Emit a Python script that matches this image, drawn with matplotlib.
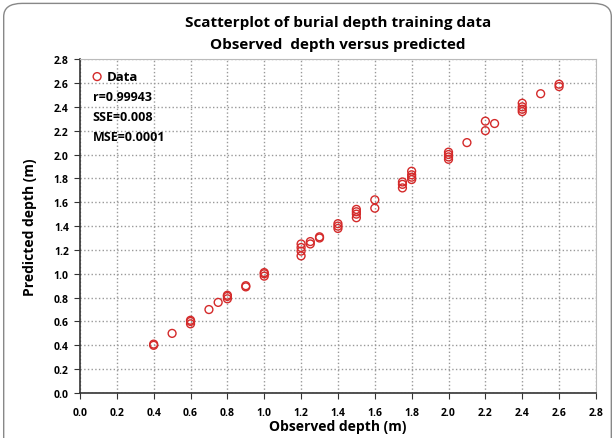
import matplotlib
matplotlib.use("Agg")
import matplotlib.pyplot as plt
from matplotlib.patches import FancyBboxPatch
import numpy as np

observed = [0.4, 0.4, 0.5, 0.6, 0.6, 0.6, 0.7, 0.75, 0.8, 0.8, 0.8, 0.9, 0.9,
            1.0, 1.0, 1.0, 1.2, 1.2, 1.2, 1.2, 1.25, 1.25, 1.3, 1.3,
            1.4, 1.4, 1.4, 1.5, 1.5, 1.5, 1.5, 1.6, 1.6,
            1.75, 1.75, 1.75, 1.8, 1.8, 1.8, 1.8, 2.0, 2.0, 2.0, 2.0,
            2.1, 2.2, 2.2, 2.25, 2.4, 2.4, 2.4, 2.4, 2.5, 2.6, 2.6]
predicted = [0.40, 0.41, 0.50, 0.58, 0.60, 0.61, 0.70, 0.76, 0.79, 0.81, 0.82, 0.89, 0.90,
             0.98, 1.00, 1.01, 1.15, 1.19, 1.22, 1.25, 1.25, 1.27, 1.30, 1.31,
             1.38, 1.40, 1.42, 1.47, 1.50, 1.52, 1.54, 1.55, 1.62,
             1.72, 1.75, 1.77, 1.79, 1.81, 1.83, 1.86, 1.96, 1.98, 2.00, 2.02,
             2.10, 2.20, 2.28, 2.26, 2.36, 2.38, 2.40, 2.43, 2.51, 2.57, 2.59]
ticks = [round(0.2 * i, 1) for i in range(15)]
stats = ["r=0.99943", "SSE=0.008", "MSE=0.0001"]

plt.rcParams['font.family'] = ['Open Sans', 'DejaVu Sans']

fig = plt.figure(figsize=(6.15, 4.39), dpi=100)
fig.patches.append(FancyBboxPatch((0.006, -0.05), 0.988, 1.04,
                                  boxstyle="round,pad=0,rounding_size=0.03",
                                  transform=fig.transFigure, fill=False,
                                  edgecolor="#888888", linewidth=1.0))
ax = fig.add_axes([0.130, 0.1025, 0.839, 0.7605])

ax.scatter(observed, predicted, s=32, facecolors='none', edgecolors='#d42a2a',
           linewidths=1.0, label='Data', zorder=3)

ax.set_xlim(0, 2.8)
ax.set_ylim(0, 2.8)
ax.set_xticks(ticks)
ax.set_yticks(ticks)
ax.set_xticklabels([f"{t:.1f}" for t in ticks], fontsize=7.5, fontweight='bold')
ax.set_yticklabels([f"{t:.1f}" for t in ticks], fontsize=7.5, fontweight='bold')
ax.tick_params(axis='x', pad=6, length=4, direction='out', color='#333333')
ax.tick_params(axis='y', pad=4, length=4, direction='out', color='#333333')
ax.grid(True, linestyle=':', color='#999999', linewidth=1.0)
ax.set_axisbelow(True)
for s in ['top', 'right']:
    ax.spines[s].set_color('#bbbbbb')
for s in ['left', 'bottom']:
    ax.spines[s].set_color('#333333')
    ax.spines[s].set_linewidth(1.2)

ax.set_xlabel('Observed depth (m)', fontsize=10, fontweight='bold', labelpad=1)
ax.set_ylabel('Predicted depth (m)', fontsize=10, fontweight='bold', labelpad=12)
fig.text(0.55, 0.948, 'Scatterplot of burial depth training data', ha='center',
         va='center', fontsize=11, fontweight='bold')
fig.text(0.55, 0.897, 'Observed  depth versus predicted', ha='center',
         va='center', fontsize=11, fontweight='bold')

leg = ax.legend(loc='upper left', bbox_to_anchor=(0.0, 0.995), frameon=False,
                prop={'size': 9.5, 'weight': 'bold'}, handletextpad=0.1,
                borderaxespad=0.3, handlelength=1.2)
for i, s in enumerate(stats):
    ax.text(0.025, 0.889 - i * 0.061, s, transform=ax.transAxes, fontsize=9,
            fontweight='bold', va='center')

fig.savefig('out.png', dpi=100)
